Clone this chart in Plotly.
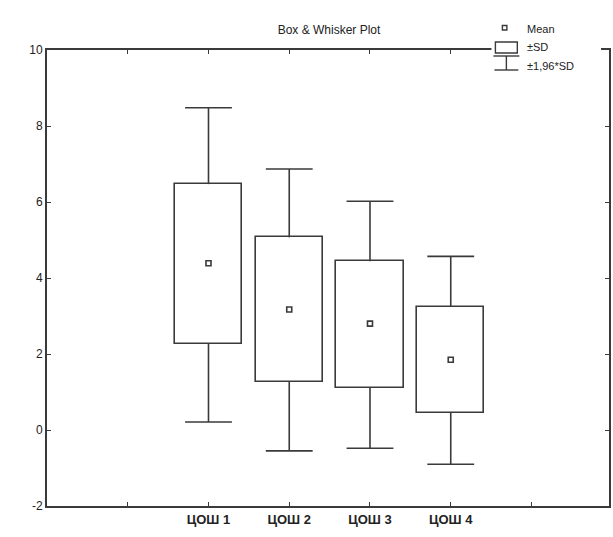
import plotly.graph_objects as go

# ---- data ----
categories = ["ЦОШ 1", "ЦОШ 2", "ЦОШ 3", "ЦОШ 4"]
means = [4.39, 3.17, 2.80, 1.85]
sd_low = [2.27, 1.27, 1.11, 0.45]
sd_high = [6.47, 5.07, 4.44, 3.25]
ci_low = [0.21, -0.55, -0.48, -0.90]
ci_high = [8.48, 6.87, 6.02, 4.57]
y_ticks = [-2, 0, 2, 4, 6, 8, 10]
y_tick_labels = ["-2", "0", "2", "4", "6", "8", "10"]

# ---- styling / layout constants ----
W, H = 613, 537
ML, MR, MT, MB = 47, 2, 50, 31
LINE = "#3a3a3a"
TEXT = "#222222"
FONT = "Liberation Sans, Arial, sans-serif"
BOX_HALF = 0.415
CAP_HALF = 0.29

xpos = [i + 2 for i in range(len(categories))]

fig = go.Figure()

# boxes (±SD)
fig.add_trace(go.Bar(
    x=xpos,
    y=[h - l for h, l in zip(sd_high, sd_low)],
    base=sd_low,
    width=2 * BOX_HALF,
    marker=dict(color="white", line=dict(color=LINE, width=1.6)),
    showlegend=False, hoverinfo="skip",
))

# whiskers (±1.96*SD) with caps
wx, wy = [], []
for x, bl, bh, cl, ch in zip(xpos, sd_low, sd_high, ci_low, ci_high):
    wx += [x, x, None, x - CAP_HALF, x + CAP_HALF, None,
           x, x, None, x - CAP_HALF, x + CAP_HALF, None]
    wy += [bh, ch, None, ch, ch, None,
           bl, cl, None, cl, cl, None]
fig.add_trace(go.Scatter(
    x=wx, y=wy, mode="lines",
    line=dict(color=LINE, width=1.6),
    showlegend=False, hoverinfo="skip",
))

# means
fig.add_trace(go.Scatter(
    x=xpos, y=means, mode="markers",
    marker=dict(symbol="square-open", size=5, color=LINE, line=dict(width=1.6)),
    showlegend=False,
))

# ---- manual legend (paper coordinates from pixel positions) ----
def px(xp):
    return (xp - ML) / (W - ML - MR)

def py(yp):
    return (H - MB - yp) / (H - MT - MB)

shapes = [
    dict(type="rect", xref="paper", yref="paper", layer="above",
         x0=px(493), x1=px(603), y0=py(80), y1=py(12),
         fillcolor="white", line=dict(width=0)),
    dict(type="rect", xref="paper", yref="paper", layer="above",
         x0=px(504), x1=px(508.5), y0=py(30), y1=py(25.5),
         line=dict(color=LINE, width=1.4)),
    dict(type="rect", xref="paper", yref="paper", layer="above",
         x0=px(497), x1=px(519), y0=py(53), y1=py(42),
         line=dict(color=LINE, width=1.4)),
    dict(type="line", xref="paper", yref="paper", layer="above",
         x0=px(495), x1=px(521), y0=py(56), y1=py(56),
         line=dict(color=LINE, width=1.4)),
    dict(type="line", xref="paper", yref="paper", layer="above",
         x0=px(508), x1=px(508), y0=py(56), y1=py(70),
         line=dict(color=LINE, width=1.4)),
    dict(type="line", xref="paper", yref="paper", layer="above",
         x0=px(496), x1=px(520), y0=py(70), y1=py(70),
         line=dict(color=LINE, width=1.4)),
]
legend_labels = ["Mean", "±SD", "±1,96*SD"]
legend_y = [29, 47, 66]
annotations = [
    dict(text=t, xref="paper", yref="paper", x=px(527), y=py(yy),
         xanchor="left", yanchor="middle", showarrow=False,
         font=dict(family=FONT, size=11, color=TEXT))
    for t, yy in zip(legend_labels, legend_y)
]

fig.update_layout(
    width=W, height=H,
    margin=dict(l=ML, r=MR, t=MT, b=MB),
    paper_bgcolor="white", plot_bgcolor="white",
    title=dict(text="Box & Whisker Plot", x=(ML + (W - MR)) / 2 / W, xanchor="center",
               y=1 - 30 / H, yanchor="middle",
               font=dict(family=FONT, size=12, color=TEXT)),
    shapes=shapes, annotations=annotations,
    showlegend=False,
    bargap=0,
)
fig.update_xaxes(
    range=[0.0, 6.96],
    tickvals=[1, 2, 3, 4, 5, 6],
    ticktext=[""] + ["<b>" + c + "</b>" for c in categories] + [""],
    ticks="inside", ticklen=4, tickcolor=LINE, tickwidth=1.2,
    showline=True, linecolor=LINE, linewidth=1.8, mirror="ticks",
    showgrid=False, zeroline=False,
    tickfont=dict(family=FONT, size=13, color=TEXT),
)
fig.update_yaxes(
    range=[-2, 10],
    tickvals=y_ticks, ticktext=y_tick_labels,
    ticks="inside", ticklen=4, tickcolor=LINE, tickwidth=1.2,
    showline=True, linecolor=LINE, linewidth=1.8, mirror="ticks",
    showgrid=False, zeroline=False,
    tickfont=dict(family=FONT, size=12, color=TEXT),
)

fig.write_html("out.html")
